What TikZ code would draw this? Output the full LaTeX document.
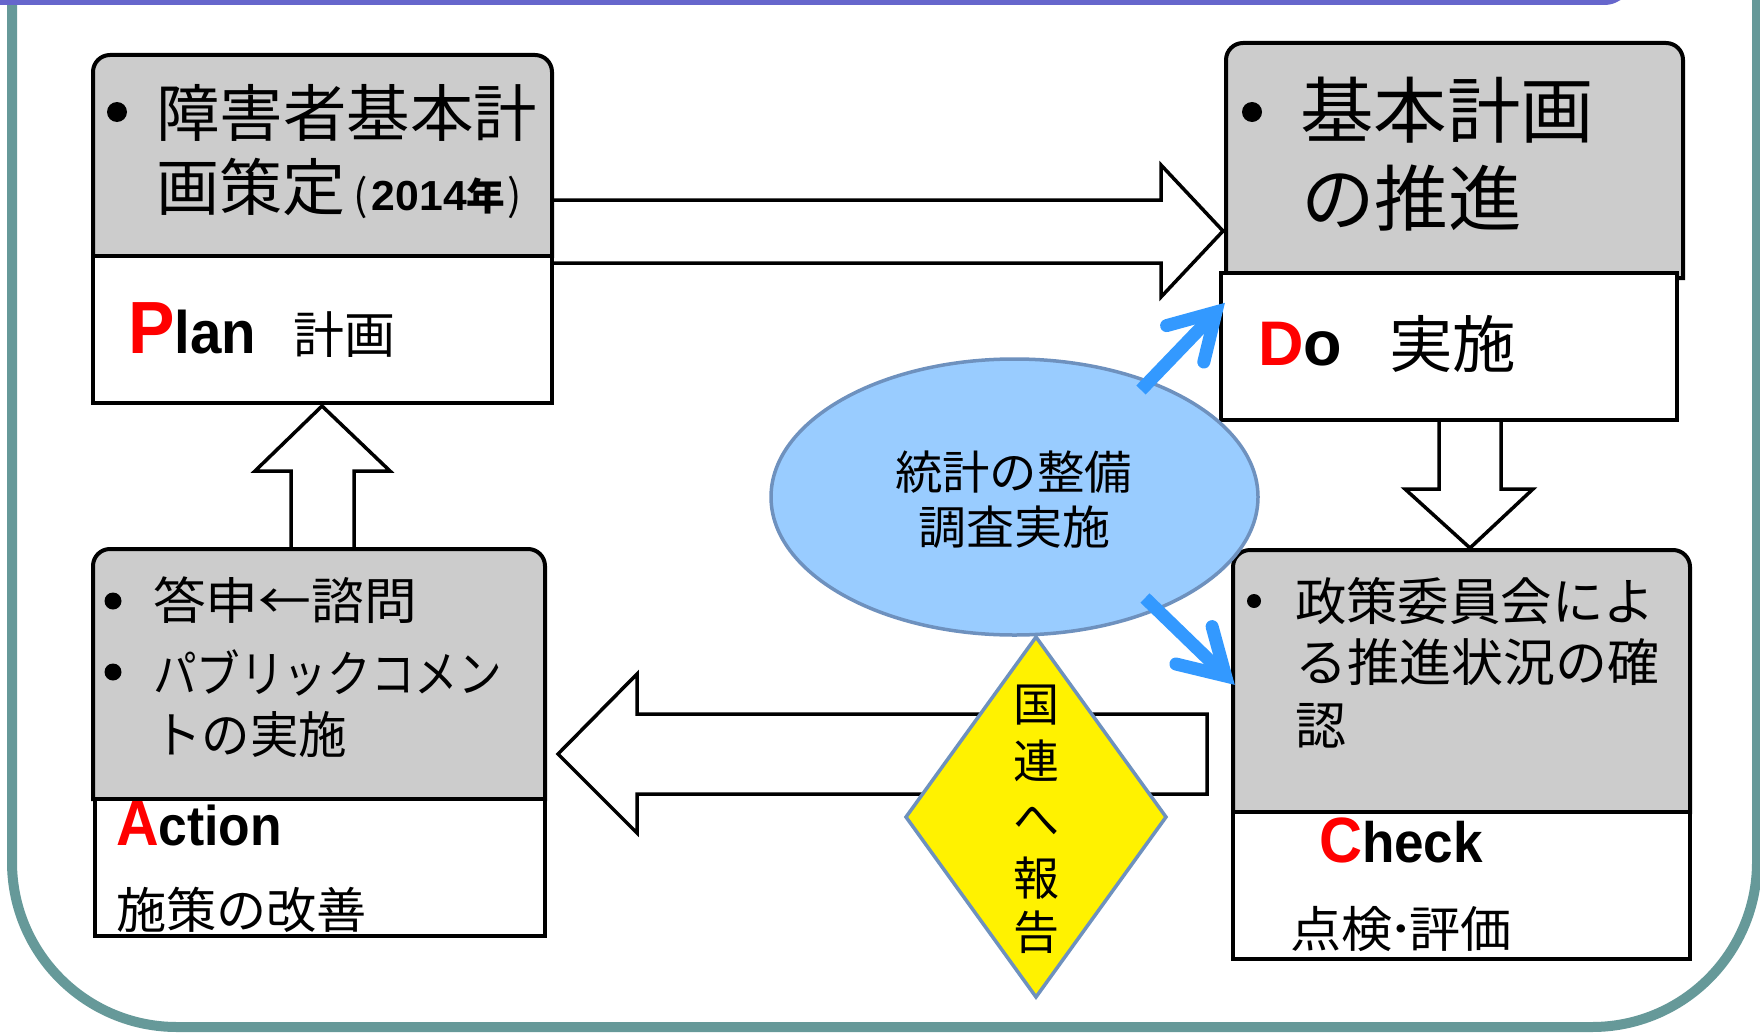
\documentclass[tikz,border=0pt]{standalone}
\usepackage{fontspec}
\usepackage{graphicx}
\usetikzlibrary{shapes.geometric}
\newfontfamily\jp{Noto Sans CJK JP}
\newfontfamily\ar{Liberation Sans}
\newcommand\fsz[1]{\fontsize{#1}{#1}\selectfont}
\newcommand\fitw[2]{\resizebox{#1pt}{\height}{#2}}
\definecolor{teal1}{RGB}{102,153,153}
\definecolor{purp}{RGB}{102,102,204}
\definecolor{hgray}{RGB}{204,204,204}
\definecolor{ellfill}{RGB}{153,204,255}
\definecolor{edgeblue}{RGB}{110,145,190}
\definecolor{arrblue}{RGB}{51,153,255}
\newcommand\hdrbox[5]{%
  \draw[hdr] (#1,#4) -- (#1,#2+17) arc[start angle=180,end angle=270,radius=17]
    -- (#3-17,#2) arc[start angle=270,end angle=360,radius=17] -- (#3,#4) -- cycle;
  \coordinate (#5) at ({(#1+#3)/2},{(#2+#4)/2});}
\begin{document}
\begin{tikzpicture}[x=1pt,y=-1pt,
  txt/.style={inner sep=0,outer sep=0},
  hdr/.style={draw=black,fill=hgray,line width=4},
  wbox/.style={draw=black,fill=white,line width=4,inner sep=0,outer sep=0,anchor=north west},
  barrow/.style={draw=black,fill=white,line width=3.5,line join=miter},
  bul/.style={circle,fill=black,inner sep=0,outer sep=0},
  bshaft/.style={draw=arrblue,line width=13,line cap=butt},
  bbarb/.style={draw=arrblue,line width=13,line cap=round,line join=miter}]
\useasboundingbox (0,0) rectangle (1760,1033);
\clip (0,0) rectangle (1760,1033);
% frame
\draw[teal1,line width=10,rounded corners=165] (12,-400) rectangle (1757,1027);
\fill[purp,rounded corners=30] (-60,-100) rectangle (1634,5);

% block arrows
\draw[barrow] (552,200) -- (1161,200) -- (1161,165) -- (1223,231) -- (1161,297) -- (1161,263) -- (552,263) -- cycle;
\draw[barrow] (291,549) -- (291,471) -- (255,471) -- (322,406) -- (390,471) -- (354,471) -- (354,549) -- cycle;
\draw[barrow] (1439,420) -- (1439,489) -- (1405,489) -- (1470,548) -- (1533,489) -- (1501,489) -- (1501,420) -- cycle;
\draw[barrow] (1207,714) -- (637,714) -- (637,674) -- (558,754) -- (637,833) -- (637,794) -- (1207,794) -- cycle;

% Plan
\hdrbox{93}{55}{552}{256}{planH}
\node[wbox,minimum width=459,minimum height=147] (planW) at (93,256) {};
% Do
\hdrbox{1226}{43}{1683}{278}{doH}
\node[wbox,minimum width=456,minimum height=147] (doW) at (1221,273) {};
% Action
\hdrbox{93}{549}{545}{799}{actH}
\node[wbox,minimum width=450,minimum height=137] (actW) at (95,799) {};
% Check
\hdrbox{1233}{550}{1690}{812}{chkH}
\node[wbox,minimum width=457,minimum height=147] (chkW) at (1233,812) {};

% ellipse and diamond
\node[ellipse,draw=edgeblue,fill=ellfill,line width=3.5,minimum width=487,minimum height=276,inner sep=0] (stat) at (1014.5,497) {};
\node[diamond,draw=edgeblue,fill=yellow,line width=3.5,minimum width=260,minimum height=360,inner sep=0,outer sep=0] (un) at (1036,817) {};

% blue arrows
\coordinate (b1s) at (1141,390);
\coordinate (b1t) at (1216,312);
\draw[bshaft] (b1s) -- (b1t);
\draw[bbarb] (1166.6,325.6) -- (b1t) -- (1203.8,362);
\coordinate (b2s) at (1145,598);
\coordinate (b2t) at (1225.6,676);
\draw[bshaft] (b2s) -- (b2t);
\draw[bbarb] (1212.1,626.6) -- (b2t) -- (1175.9,664);

% Plan text
\node[bul,minimum size=20] (pb1) at (117,112) {};
\node[txt,anchor=west] (p1) at (156,112.5) {\fitw{381}{\jp\fsz{62}障害者基本計}};
\node[txt,anchor=west] (p2) at (156,188) {\fitw{366}{{\jp\fsz{62}画策定}\hspace{8pt}{\jp\fsz{42}(}\hspace{4pt}{\ar\bfseries\fsz{42}2014}{\jp\bfseries\fsz{38}年}\hspace{2pt}{\jp\fsz{42})}}};
\node[txt,anchor=base west] (p3) at (128,353) {\fitw{128}{{\ar\bfseries\fsz{74}\color{red}P}{\ar\bfseries\fsz{60}lan}}};
\node[txt,anchor=west] (p4) at (293,334.5) {\fitw{102}{\jp\fsz{50}計画}};

% Do text
\node[bul,minimum size=20] (db1) at (1252,112) {};
\node[txt,anchor=west] (d1) at (1300,110.5) {\fitw{294}{\jp\fsz{72}基本計画}};
\node[txt,anchor=west] (d2) at (1301,198.5) {\fitw{221}{\jp\fsz{72}の推進}};
\node[txt,anchor=base west] (d3) at (1258,365) {{\ar\bfseries\fsz{63}\color{red}D}{\ar\bfseries\fsz{63}o}};
\node[txt,anchor=west] (d4) at (1389,343.5) {\fitw{127}{\jp\fsz{62}実施}};

% Action text
\node[bul,minimum size=17] (ab1) at (113,601) {};
\node[bul,minimum size=17] (ab2) at (113,672) {};
\node[txt,anchor=west] (a1) at (153,600.5) {\fitw{264}{\jp\fsz{50}答申←諮問}};
\node[txt,anchor=west] (a2) at (153,673) {\fitw{349}{\jp\fsz{50}パブリックコメン}};
\node[txt,anchor=west] (a3) at (153,734.5) {\fitw{194}{\jp\fsz{50}トの実施}};
\node[txt,anchor=base west] (a4) at (116,845) {\fitw{166}{{\ar\bfseries\fsz{64}\color{red}A}{\ar\bfseries\fsz{56}ction}}};
\node[txt,anchor=west] (a5) at (116,909.5) {\fitw{251}{\jp\fsz{49}施策の改善}};

% Check text
\node[bul,minimum size=14] (cb1) at (1254,601) {};
\node[txt,anchor=west] (c1) at (1295,601.5) {\fitw{360}{\jp\fsz{51}政策委員会によ}};
\node[txt,anchor=west] (c2) at (1295,662.5) {\fitw{364}{\jp\fsz{51}る推進状況の確}};
\node[txt,anchor=west] (c3) at (1295,725.5) {\jp\fsz{51}認};
\node[txt,anchor=base west] (c4) at (1319,862) {\fitw{164}{{\ar\bfseries\fsz{64}\color{red}C}{\ar\bfseries\fsz{57}heck}}};
\node[txt,anchor=west] (c5) at (1290,929) {\fitw{222}{\jp\fsz{49}点検\hspace{-4pt}･\hspace{-4pt}評価}};

% ellipse text
\node[txt,anchor=west] (s1) at (895,472) {\fitw{237}{\jp\fsz{46}統計の整備}};
\node[txt,anchor=west] (s2) at (918,527) {\fitw{192}{\jp\fsz{46}調査実施}};

% diamond text
\node[txt] (u1) at (1036,705) {\jp\fsz{46}国};
\node[txt] (u2) at (1036,761) {\jp\fsz{46}連};
\node[txt] (u3) at (1036,821) {\jp\fsz{46}へ};
\node[txt] (u4) at (1036,878) {\jp\fsz{46}報};
\node[txt] (u5) at (1036,932) {\jp\fsz{46}告};
\end{tikzpicture}
\end{document}
